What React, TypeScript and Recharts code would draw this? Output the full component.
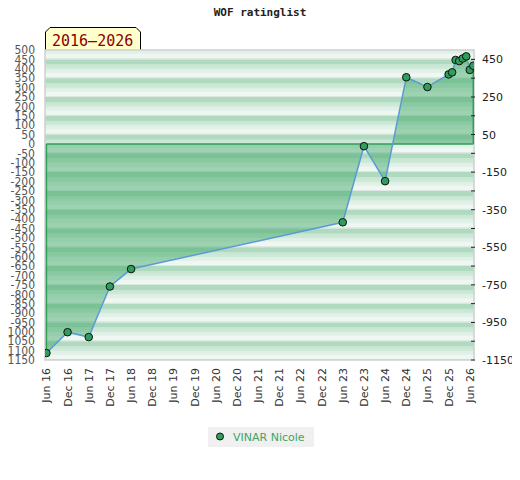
import React from "react"
import { ComposedChart, Area, Line, XAxis, YAxis, ReferenceArea, ReferenceLine } from "recharts"

// rating list dates and values
const months = [
    '2016-06', '2016-12', '2017-06', '2017-12', '2018-06',
    '2023-06', '2023-12', '2024-06', '2024-12', '2025-06', '2025-12',
    '2026-01', '2026-02', '2026-03', '2026-04', '2026-05', '2026-06', '2026-07',
]
const ratings = [-1113, -1002, -1028, -759, -666, -417, -12, -198, 355, 303, 370, 381, 447, 441, 455, 466, 394, 416]

const xTicks = [5, 11, 17, 23, 29, 35, 41, 47, 53, 59, 65, 71, 77, 83, 89, 95, 101, 107, 113, 119, 125]
const xLabels = [
    'Jun 16', 'Dec 16', 'Jun 17', 'Dec 17', 'Jun 18', 'Dec 18', 'Jun 19', 'Dec 19', 'Jun 20', 'Dec 20',
    'Jun 21', 'Dec 21', 'Jun 22', 'Dec 22', 'Jun 23', 'Dec 23', 'Jun 24', 'Dec 24', 'Jun 25', 'Dec 25', 'Jun 26',
]
const leftTicks = [
    500, 450, 400, 350, 300, 250, 200, 150, 100, 50, 0, -50, -100, -150, -200, -250, -300, -350, -400, -450,
    -500, -550, -600, -650, -700, -750, -800, -850, -900, -950, -1000, -1050, -1100, -1150,
]
const rightTicks = [450, 350, 250, 150, 50, -50, -150, -250, -350, -450, -550, -650, -750, -850, -950, -1050, -1150]
const rightLabels = ['450', '250', '50', '-150', '-350', '-550', '-750', '-950', '-1150']

const bandTops = [550, 450, 350, 250, 150, 50, -50, -150, -250, -350, -450, -550, -650, -750, -850, -950, -1050]

type Row = { m: number, rating: number }

function toMonth(s: string): number {
    const [y, mo] = s.split('-').map(Number)
    return (y - 2016) * 12 + (mo - 1)
}

const data: Row[] = months.map((s, i) => ({ m: toMonth(s), rating: ratings[i] }))
const first = data[0]
const last = data[data.length - 1]

const XTick = (props: any) => {
    const { x, y, payload } = props
    const i = xTicks.indexOf(payload.value)
    return (
        <g transform={`translate(${x},${y + 8})`}>
            <text transform="rotate(-90)" textAnchor="end" dy={4} fontSize={11}
                fontFamily="DejaVu Sans" fill="#333">{xLabels[i]}</text>
        </g>
    )
}

const RightTick = (props: any) => {
    const { x, y, payload } = props
    const label = String(payload.value)
    return (
        <g>
            <line x1={x - 3} x2={x + 1} y1={y} y2={y} stroke="#222" />
            {rightLabels.includes(label) &&
                <text x={x + 8} y={y} dy={4} fontSize={11} fontFamily="DejaVu Sans" fill="#222">{label}</text>}
        </g>
    )
}

const Dot = (props: any) => {
    const { cx, cy } = props
    if (cx == null || cy == null) return null
    return <circle cx={cx} cy={cy} r={3.8} fill="#2e9e5a" stroke="#111" strokeWidth={1} />
}

const App = () => {
    return (
        <div style={{ position: 'relative', width: 520, height: 480, margin: '-8px', background: '#fff' }}>
            <div style={{
                position: 'absolute', top: 6, left: 0, width: 520, textAlign: 'center',
                fontFamily: 'DejaVu Sans Mono', fontWeight: 'bold', fontSize: 11, color: '#222'
            }}>WOF ratinglist</div>

            <svg width={520} height={60} style={{ position: 'absolute', left: 0, top: 0 }}>
                <polygon points="45.5,50.5 45.5,32 50,27.5 136,27.5 140.5,32 140.5,50.5"
                    fill="#ffffcc" stroke="#000" strokeWidth={1} />
                <text x={52} y={46} fontFamily="DejaVu Sans Mono" fontSize={15} fill="#8b0000">2016–2026</text>
            </svg>

            <ComposedChart width={520} height={480} data={data}
                margin={{ top: 50, right: 0, bottom: 60, left: 0 }}
                style={{ position: 'absolute', left: 0, top: 0 }}>
                <defs>
                    <linearGradient id="band" x1="0" y1="0" x2="0" y2="1">
                        <stop offset="0" stopColor="#b0dac0" />
                        <stop offset="0.25" stopColor="#b0dac0" />
                        <stop offset="0.27" stopColor="#c6e5d1" />
                        <stop offset="0.5" stopColor="#d0eada" />
                        <stop offset="0.52" stopColor="#def0e5" />
                        <stop offset="0.72" stopColor="#e4f2e9" />
                        <stop offset="0.74" stopColor="#eef7f1" />
                        <stop offset="0.93" stopColor="#f0f7f2" />
                        <stop offset="0.95" stopColor="#dfe7e2" />
                        <stop offset="1" stopColor="#dfe7e2" />
                    </linearGradient>
                </defs>
                <XAxis dataKey="m" type="number" domain={[4.6, 126.2]} allowDataOverflow ticks={xTicks}
                    interval={0} height={60} tickLine={false} axisLine={false} tickSize={0} tickMargin={0}
                    tick={<XTick />} />
                <YAxis yAxisId="left" domain={[-1150, 500]} ticks={leftTicks} interval={0} width={45}
                    allowDataOverflow tickLine={false} axisLine={false} tickSize={0} tickMargin={10}
                    tick={{ fontSize: 12, fontFamily: 'DejaVu Sans Condensed, DejaVu Sans', fill: '#555' }} />
                <YAxis yAxisId="right" orientation="right" domain={[-1150, 500]} ticks={rightTicks}
                    interval={0} width={46} allowDataOverflow tickLine={false} axisLine={false}
                    tickSize={0} tickMargin={0} tick={<RightTick />} />

                {bandTops.map(t => (
                    <ReferenceArea key={t} yAxisId="left" y1={t - 100} y2={t} ifOverflow="hidden"
                        fill="url(#band)" fillOpacity={1} stroke="none" />
                ))}

                <Area yAxisId="left" dataKey="rating" type="linear" baseValue={0} fill="#3aa564"
                    fillOpacity={0.45} stroke="none" isAnimationActive={false} />

                <ReferenceLine yAxisId="left" segment={[{ x: first.m, y: 0 }, { x: last.m, y: 0 }]}
                    stroke="#2f9e58" strokeWidth={1.5} />
                <ReferenceLine yAxisId="left" segment={[{ x: first.m, y: 0 }, { x: first.m, y: first.rating }]}
                    stroke="#2f9e58" strokeWidth={1.5} />
                <ReferenceLine yAxisId="left" segment={[{ x: last.m, y: 0 }, { x: last.m, y: last.rating }]}
                    stroke="#2f9e58" strokeWidth={1.5} />

                <ReferenceArea yAxisId="left" y1={-1150} y2={500} fill="none" stroke="#cfcfcf" strokeWidth={1.5} />

                <Line yAxisId="left" dataKey="rating" type="linear" stroke="#5b9bd5" strokeWidth={1.5}
                    dot={<Dot />} activeDot={false} isAnimationActive={false} />
            </ComposedChart>

            <div style={{
                position: 'absolute', left: 208, top: 427, width: 106, height: 20, background: '#f0f0f0',
                display: 'flex', alignItems: 'center', fontFamily: 'DejaVu Sans', fontSize: 11, color: '#3ba565'
            }}>
                <svg width={24} height={20}>
                    <circle cx={12} cy={9.5} r={3.5} fill="#2e9e5a" stroke="#111" strokeWidth={1} />
                </svg>
                <span style={{ marginLeft: 1 }}>VINAR Nicole</span>
            </div>
        </div>
    )
}

export default App
